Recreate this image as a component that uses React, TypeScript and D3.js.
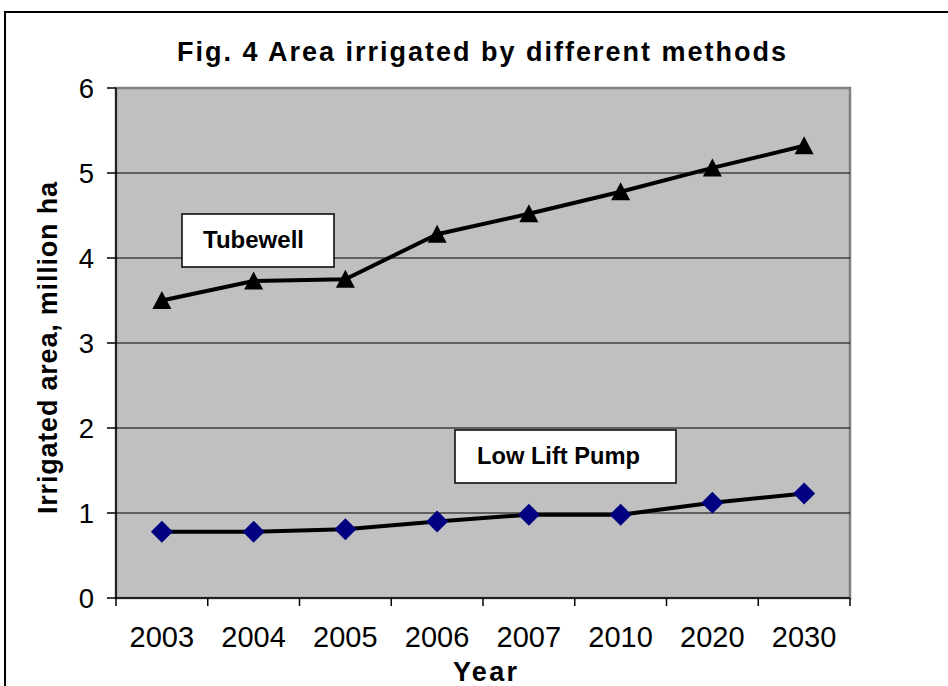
import React from "react";
import * as d3 from "d3";

const years = ["2003", "2004", "2005", "2006", "2007", "2010", "2020", "2030"];
const tubewell = [3.5, 3.73, 3.75, 4.28, 4.52, 4.78, 5.06, 5.32];
const lowLiftPump = [0.78, 0.78, 0.81, 0.9, 0.98, 0.98, 1.12, 1.23];
const yTicks = [0, 1, 2, 3, 4, 5, 6];

const title = "Fig. 4 Area irrigated by different methods";
const xTitle = "Year";
const yTitle = "Irrigated area, million ha";

const FONT = "'Liberation Sans', Arial, Helvetica, sans-serif";

export default function App() {
  const W = 948;
  const H = 686;
  const left = 116, right = 850, top = 88, bottom = 598;
  const x = d3.scaleBand<string>().domain(years).range([left, right]).padding(0);
  const y = d3.scaleLinear().domain([0, 6]).range([bottom, top]);
  const cx = (d: string) => (x(d) as number) + x.bandwidth() / 2;

  const line = d3
    .line<number>()
    .x((_, i) => cx(years[i]))
    .y((v) => y(v));

  const tri = (px: number, py: number) =>
    `M${px},${py - 9.5}L${px + 9.5},${py + 8.5}L${px - 9.5},${py + 8.5}Z`;
  const dia = (px: number, py: number) =>
    `M${px},${py - 11}L${px + 11},${py}L${px},${py + 11}L${px - 11},${py}Z`;

  const xBoundaries = [...years.map((d) => x(d) as number), right];

  return (
    <svg
      width={W}
      height={H}
      style={{ position: "absolute", left: 0, top: 0, background: "#fff" }}
      fontFamily={FONT}
    >
      <rect x={0} y={0} width={W} height={H} fill="#fff" />
      {/* outer chart border */}
      <rect x={5} y={12} width={W + 20} height={H + 20} fill="none" stroke="#000" strokeWidth={2} />

      {/* title */}
      <text
        x={481.5}
        y={61}
        textAnchor="middle"
        fontSize={27}
        fontWeight="bold"
        textLength={609}
        lengthAdjust="spacing"
      >
        {title}
      </text>

      {/* plot area */}
      <rect x={left} y={top} width={right - left} height={bottom - top} fill="#C0C0C0" stroke="#808080" strokeWidth={2.5} />

      {/* gridlines */}
      {yTicks.filter((t) => t > 0 && t < 6).map((t) => (
        <line key={t} x1={left} x2={right} y1={y(t)} y2={y(t)} stroke="#000" strokeWidth={1} />
      ))}

      {/* axes */}
      <line x1={left} x2={left} y1={top} y2={bottom} stroke="#000" strokeWidth={1.5} />
      <line x1={left} x2={right} y1={bottom} y2={bottom} stroke="#000" strokeWidth={1.5} />
      {yTicks.map((t) => (
        <g key={t}>
          <line x1={107} x2={left} y1={y(t)} y2={y(t)} stroke="#000" strokeWidth={1.5} />
          <text x={94} y={y(t) + 9.5} textAnchor="end" fontSize={27.5}>
            {t}
          </text>
        </g>
      ))}
      {xBoundaries.map((b, i) => (
        <line key={i} x1={b} x2={b} y1={bottom} y2={bottom + 8} stroke="#000" strokeWidth={1.5} />
      ))}
      {years.map((d) => (
        <text key={d} x={cx(d)} y={647} textAnchor="middle" fontSize={29}>
          {d}
        </text>
      ))}

      {/* axis titles */}
      <text x={485} y={681} textAnchor="middle" fontSize={27} fontWeight="bold" textLength={64} lengthAdjust="spacing">
        {xTitle}
      </text>
      <text
        transform={`translate(57,348) rotate(-90)`}
        textAnchor="middle"
        fontSize={27}
        fontWeight="bold"
        textLength={332}
        lengthAdjust="spacing"
      >
        {yTitle}
      </text>

      {/* series lines */}
      <path d={line(tubewell) || ""} fill="none" stroke="#000" strokeWidth={4} strokeLinejoin="round" />
      <path d={line(lowLiftPump) || ""} fill="none" stroke="#000" strokeWidth={4} strokeLinejoin="round" />
      {tubewell.map((v, i) => (
        <path key={"t" + i} d={tri(cx(years[i]), y(v))} fill="#000" />
      ))}
      {lowLiftPump.map((v, i) => (
        <path key={"l" + i} d={dia(cx(years[i]), y(v))} fill="#000080" />
      ))}

      {/* labels */}
      <rect x={182} y={214} width={152} height={53} fill="#fff" stroke="#000" strokeWidth={1.5} />
      <text x={203} y={248} fontSize={24} fontWeight="bold" textLength={101} lengthAdjust="spacingAndGlyphs">
        Tubewell
      </text>
      <rect x={455} y={430} width={221} height={53} fill="#fff" stroke="#000" strokeWidth={1.5} />
      <text x={477} y={464} fontSize={24} fontWeight="bold" textLength={163} lengthAdjust="spacingAndGlyphs">
        Low Lift Pump
      </text>
    </svg>
  );
}
